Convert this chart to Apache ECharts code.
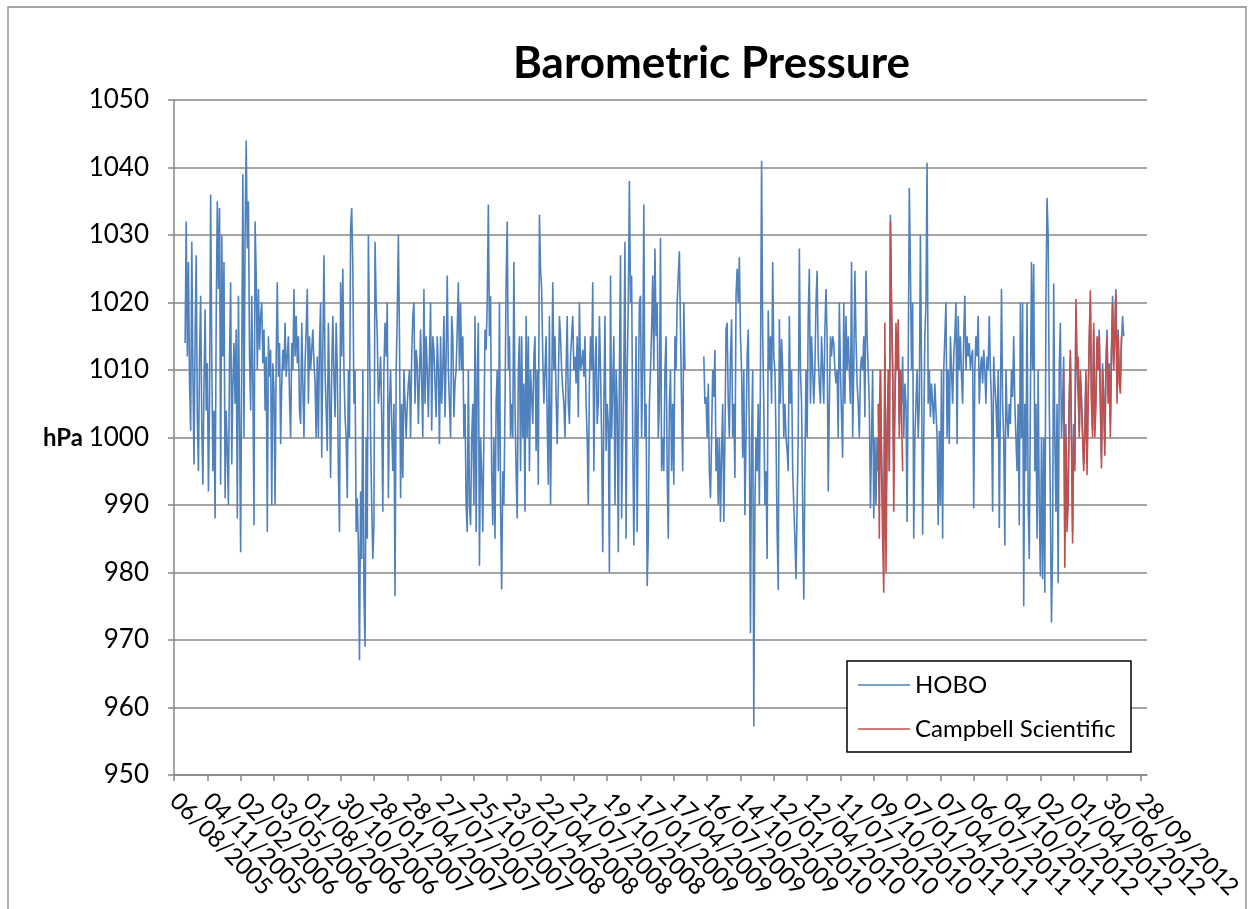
<!DOCTYPE html>
<html><head><meta charset="utf-8">
<script src="https://cdn.jsdelivr.net/npm/echarts@6/dist/echarts.min.js"></script>
<style>html,body{margin:0;padding:0;background:#fff}#c{width:1250px;height:909px}</style>
</head><body><div id="c"></div>
<script>
// x-axis tick labels (every 90 days from 06/08/2005)
const tickLabels = ['06/08/2005','04/11/2005','02/02/2006','03/05/2006','01/08/2006','30/10/2006',
  '28/01/2007','28/04/2007','27/07/2007','25/10/2007','23/01/2008','22/04/2008','21/07/2008',
  '19/10/2008','17/01/2009','17/04/2009','16/07/2009','14/10/2009','12/01/2010','12/04/2010',
  '11/07/2010','09/10/2010','07/01/2011','07/04/2011','06/07/2011','04/10/2011','02/01/2012',
  '01/04/2012','30/06/2012','28/09/2012'];
const tickStepDays = 90;
const axisMaxDay = 2628;
const sampleStepDays = 3;

// HOBO readings (hPa), one every 3 days starting day 30 after 06/08/2005; null = no data
const hoboStartDay = 30;
const hoboValues = [
1014,1032,1012,1026,1008,1001,1029,1010,996,1015,
1027,1003,995,1012,1021,1002,993,1008,1019,1004,
1011,992,1005,1036,1012,995,1004,988,1018,1035,
1022,1034,993,1030,1012,1026,991,1004,998,990,
1012,1023,996,1008,1014,1005,1016,988,1021,1003,
983,1012,1039,1000,1030,1044,1028,1035,1012,1004,
1021,1008,987,1032,1024,1010,1022,1013,1018,1020,
1011,1016,1004,1012,986,1015,1009,1013,990,1011,
1007,990,1012,1023,1009,1014,999,1008,1013,1010,
1017,1009,1012,1015,1006,1000,1014,1010,1022,1012,
1018,1011,1015,1004,1002,1017,1008,1000,1011,1016,
1022,1005,1015,1010,1013,1016,1011,1008,1000,1012,
1000,1014,1020,997,1013,1027,1010,1004,998,1017,
1007,994,1010,1018,1009,1003,1017,1010,995,986,
1023,1012,1025,1010,1003,1000,991,1010,1000,1031,
1034,1025,1005,1010,986,991,984,967,992,982,
1010,977,969,1000,985,1030,1015,1000,990,982,
987,1029,1020,1015,1005,1008,1012,1003,989,1010,
1017,1012,1020,991,1005,1010,1002,995,1005,976.5,
1010,1018,1030,1015,991,1005,994,1010,1005,1000,
1005,1008,1010,1000,1012,1018,1020,1005,1013,1011,
1002,1009,1016,1008,1000,1022,1005,1015,1010,1003,
1012,1020,1001,1015,1013,1008,1003,1015,1010,999,
1015,1005,1010,1018,1003,1012,1024,1010,1005,1000,
1018,1015,1003,1008,1010,1016,1023,1010,1020,1010,
1015,1000,1005,990,986,1010,990,987,1000,1005,
990,1018,986,1010,1017,981,1000,995,986,1000,
1016,1013,1020,1034.5,1015,1021,995,987,1000,985,
1005,1010,995,1020,990,977.5,995,990,1005,1023,
1032,1010,1015,1000,1005,1000,1026,1005,995,988,
1010,1015,995,1015,1000,1008,989,1018,1000,1015,
995,1010,1006,1002,1012,1015,998,1010,993,1033,
1025,1022,1012,1005,1010,1015,1002,993,1018,990,
1005,1023,1010,1015,1006,999,1008,1018,1015,1010,
1007,1005,1000,1010,1018,1005,1002,1012,1015,1018,
1010,1012,1008,1015,1003,1020,1010,1011,1013,1009,
1015,1005,1000,990,1008,1015,1010,1023,995,1010,
1015,1002,1005,1018,1010,1000,983,1005,1018,998,
1005,1002,980,1024,1000,1008,1015,990,1010,1005,
983,1010,1027,988,1000,1010,1029,985,1010,1020,
1038,1020,1024,1000,984,1000,1015,986,1005,1020,
1021,1000,1010,1034.5,1000,1005,978,985,1005,1010,
1016,1024,1010,1028,1015,1020,1000,1005,1029.6,995,
1000,995,1010,1015,995,985,1005,1010,995,1005,
993,1015,1010,1020,1024,1027.6,1016,1005,995,1020,
1010,null,null,null,null,null,null,null,null,null,
null,null,null,null,null,null,null,1012,1005,1006,
1000,1008,995,991,1000,1010,1006,1013,995,1000,
990,1000,987.5,998,1005,987.5,1000,1016,1017,1005,
1000,1012,1017.5,1000,1005,994,1021,1025,1020,1026.7,
1015,1010,997,1010,988.5,1000,1012,1016,1000,971,
1000,1010,957.2,990,1000,995,1005,990,1010,1041,
1015,1005,990,995,982,1018.8,1010,1015,1005,1026,
1012,1010,1000,986,977.4,1017.5,1005,1014.6,1010,1000,
1005,1000,998,995,1018,1005,1010,995,990,985,
979,990,1000,1028,1010,1005,990,976,995,1010,
1000,1018,1025,1005,1015,1010,1005,1010,1020,1024.7,
1012,1008,1005,1015,1010,1005,1016,1022,1015,992,
1005,1015,1012,1015,1014,1010,1008,1010,1000,1020,
1010,1003,997,1020,1005,1018,1010,1015,1010,1005,
1026,1000,1010,1024.7,1015,1008,1005,1000,1010,1012,
1010,1015,1003,1024.7,1015,1010,1005,989.5,1000,1010,
988,1000,990,1000,995,1003,1010,998,990,985,
1012,990,1000,1008,995,1033,1018,1010,996,1005,
1012,1010,1015,1002,1010,1005,1012,1000,1008,1005,
987.5,1010,1037,1025,1010,1020,985,1000,1005,1010,
1000,1005,1030,1010,985.6,1000,1015,1020,1040.7,1005,
1010,1003,1008,1005,1002,1008,1004,1000,987,1001,
990,1010,985,1010,1015,1020,1000,1010,999,1015,
1010,1005,1012,1015,1020,999,1018,1010,1015,1009,
1005,1015,1021,1010,1015,1012,1014,1010,1012,1013,
989.5,1010,1015,1012,1018,1005,1010,1012,1008,1013,
1010,1005,1012,1010,1018,1010,1005,989,1012,1008,
1005,1000,1010,986.6,1005,1022,1005,1000,984,1010,
1003,1000,1005,1002,1010,1006,1015,1005,1000,995,
1005,987,1020,1000,1020,975,1005,995,1020,990,
982,1005,1026,1010,1025.7,995,1005,985,1010,990,
979.4,1000,979,1000,977,1020,1035.5,1030,1005,990,
972.6,983.6,1022.8,1000,989,1005,978.4,1010,1017,1000,
1005,1012,985,1002,988,992,1006,1012,1001,986,
1002,996,1019,1011,1011,1001,1009,1006,1001,996,
1001,1009,996,1006,1014,1020,1006,1001,1016,1001,
1006,1014,1011,1016,1006,997,1011,1006,999,1011,
1016,1006,1011,1002,1013,1021,1011,1016,1022,1007,
1016,1010,1008,1014,1018,1015
];

// Campbell Scientific readings (hPa), two logging periods, one every 3 days
const campbell1StartDay = 1902;
const campbell1Values = [1005,985,1010,995,985,977,1017,980,1000,1010,995,1032,1020,1010,989,1005,1017,1010,1017.5,1000,1010,1003,995];
const campbell2StartDay = 2403;
const campbell2Values = [1010,980.7,1000,986,990,1005,1013,1000,984.3,1000,995,1020.5,1010,1012,1000,1010,1005,1000,995,1000,
1010,994.4,1005,1015,1021.8,1005,1000,1017,1000,1005,1015,1010,1015,1005,995.4,1010,1005,997.3,1010,1015,
1005,1010,1000,1012,1019.8,1010,1015,1021.4,1005,1015,1008,1006.5,1015];

function toPoints(start, vals) { return vals.map((v, k) => [start + k * sampleStepDays, v]); }
const hoboData = toPoints(hoboStartDay, hoboValues);
const c1 = toPoints(campbell1StartDay, campbell1Values);
const c2 = toPoints(campbell2StartDay, campbell2Values);
const campbellData = c1.concat([[c1[c1.length - 1][0] + sampleStepDays, null]], c2);
// one category per day along the axis
const dayCategories = Array.from({length: axisMaxDay + 1}, (_, d) => String(d));
const isTickDay = idx => idx % tickStepDays === 0 && idx / tickStepDays < tickLabels.length;

const chart = echarts.init(document.getElementById('c'), null, {renderer: 'canvas'});
const FONT = 'Lato';
chart.setOption({
  animation: false,
  backgroundColor: '#fff',
  grid: {left: 174, top: 100, right: 103, bottom: 134, containLabel: false},
  xAxis: {
    type: 'category', data: dayCategories, boundaryGap: false,
    splitLine: {show: false},
    axisLine: {lineStyle: {color: '#878787', width: 1.5}},
    axisTick: {show: true, length: 6, interval: (idx) => isTickDay(idx), lineStyle: {color: '#878787', width: 1.5}},
    axisLabel: {
      interval: 0, rotate: -45, margin: 22,
      fontFamily: FONT, fontSize: 24, color: '#000',
      formatter: (value, idx) => isTickDay(idx) ? tickLabels[idx / tickStepDays] : ''
    }
  },
  yAxis: {
    type: 'value', min: 950, max: 1050, interval: 10,
    axisLine: {show: true, lineStyle: {color: '#878787', width: 1.5}},
    axisTick: {show: true, length: 6, lineStyle: {color: '#878787', width: 1.5}},
    splitLine: {show: true, lineStyle: {color: '#878787', width: 1.5}},
    axisLabel: {fontFamily: FONT, fontSize: 26, color: '#000', margin: 25, formatter: v => String(v)}
  },
  legend: {
    orient: 'vertical', left: 847, top: 661, padding: [9, 12, 8, 11], itemGap: 14,
    itemWidth: 52, itemHeight: 1.6, icon: 'rect', z: 10,
    textStyle: {fontFamily: FONT, fontSize: 24, color: '#000', lineHeight: 30},
    data: ['HOBO', 'Campbell Scientific']
  },
  graphic: [
    {type: 'rect', z: 0, silent: true, shape: {x: 8, y: 7, width: 1238, height: 930}, style: {fill: 'none', stroke: '#888', lineWidth: 1.3}},
    {type: 'text', z: 5, left: 513, top: 42, style: {text: 'Barometric Pressure', fontFamily: FONT, fontWeight: 'bold', fontSize: 44, fill: '#000'}},
    {type: 'text', z: 5, x: 63, y: 438, style: {text: 'hPa', fontFamily: FONT, fontWeight: 'bold', fontSize: 24, fill: '#000', align: 'center', verticalAlign: 'middle'}},
    {type: 'rect', z: 5, silent: true, shape: {x: 847, y: 661, width: 284, height: 91}, style: {fill: '#fff', stroke: '#000', lineWidth: 1.5}}
  ],
  series: [
    {name: 'HOBO', type: 'line', data: hoboData, symbol: 'none', showSymbol: false, connectNulls: false, z: 2,
     lineStyle: {color: '#4F81BD', width: 1.6}, itemStyle: {color: '#4F81BD'}},
    {name: 'Campbell Scientific', type: 'line', data: campbellData, symbol: 'none', showSymbol: false, connectNulls: false, z: 3,
     lineStyle: {color: '#C0504D', width: 1.6}, itemStyle: {color: '#C0504D'}}
  ]
});
</script></body></html>
